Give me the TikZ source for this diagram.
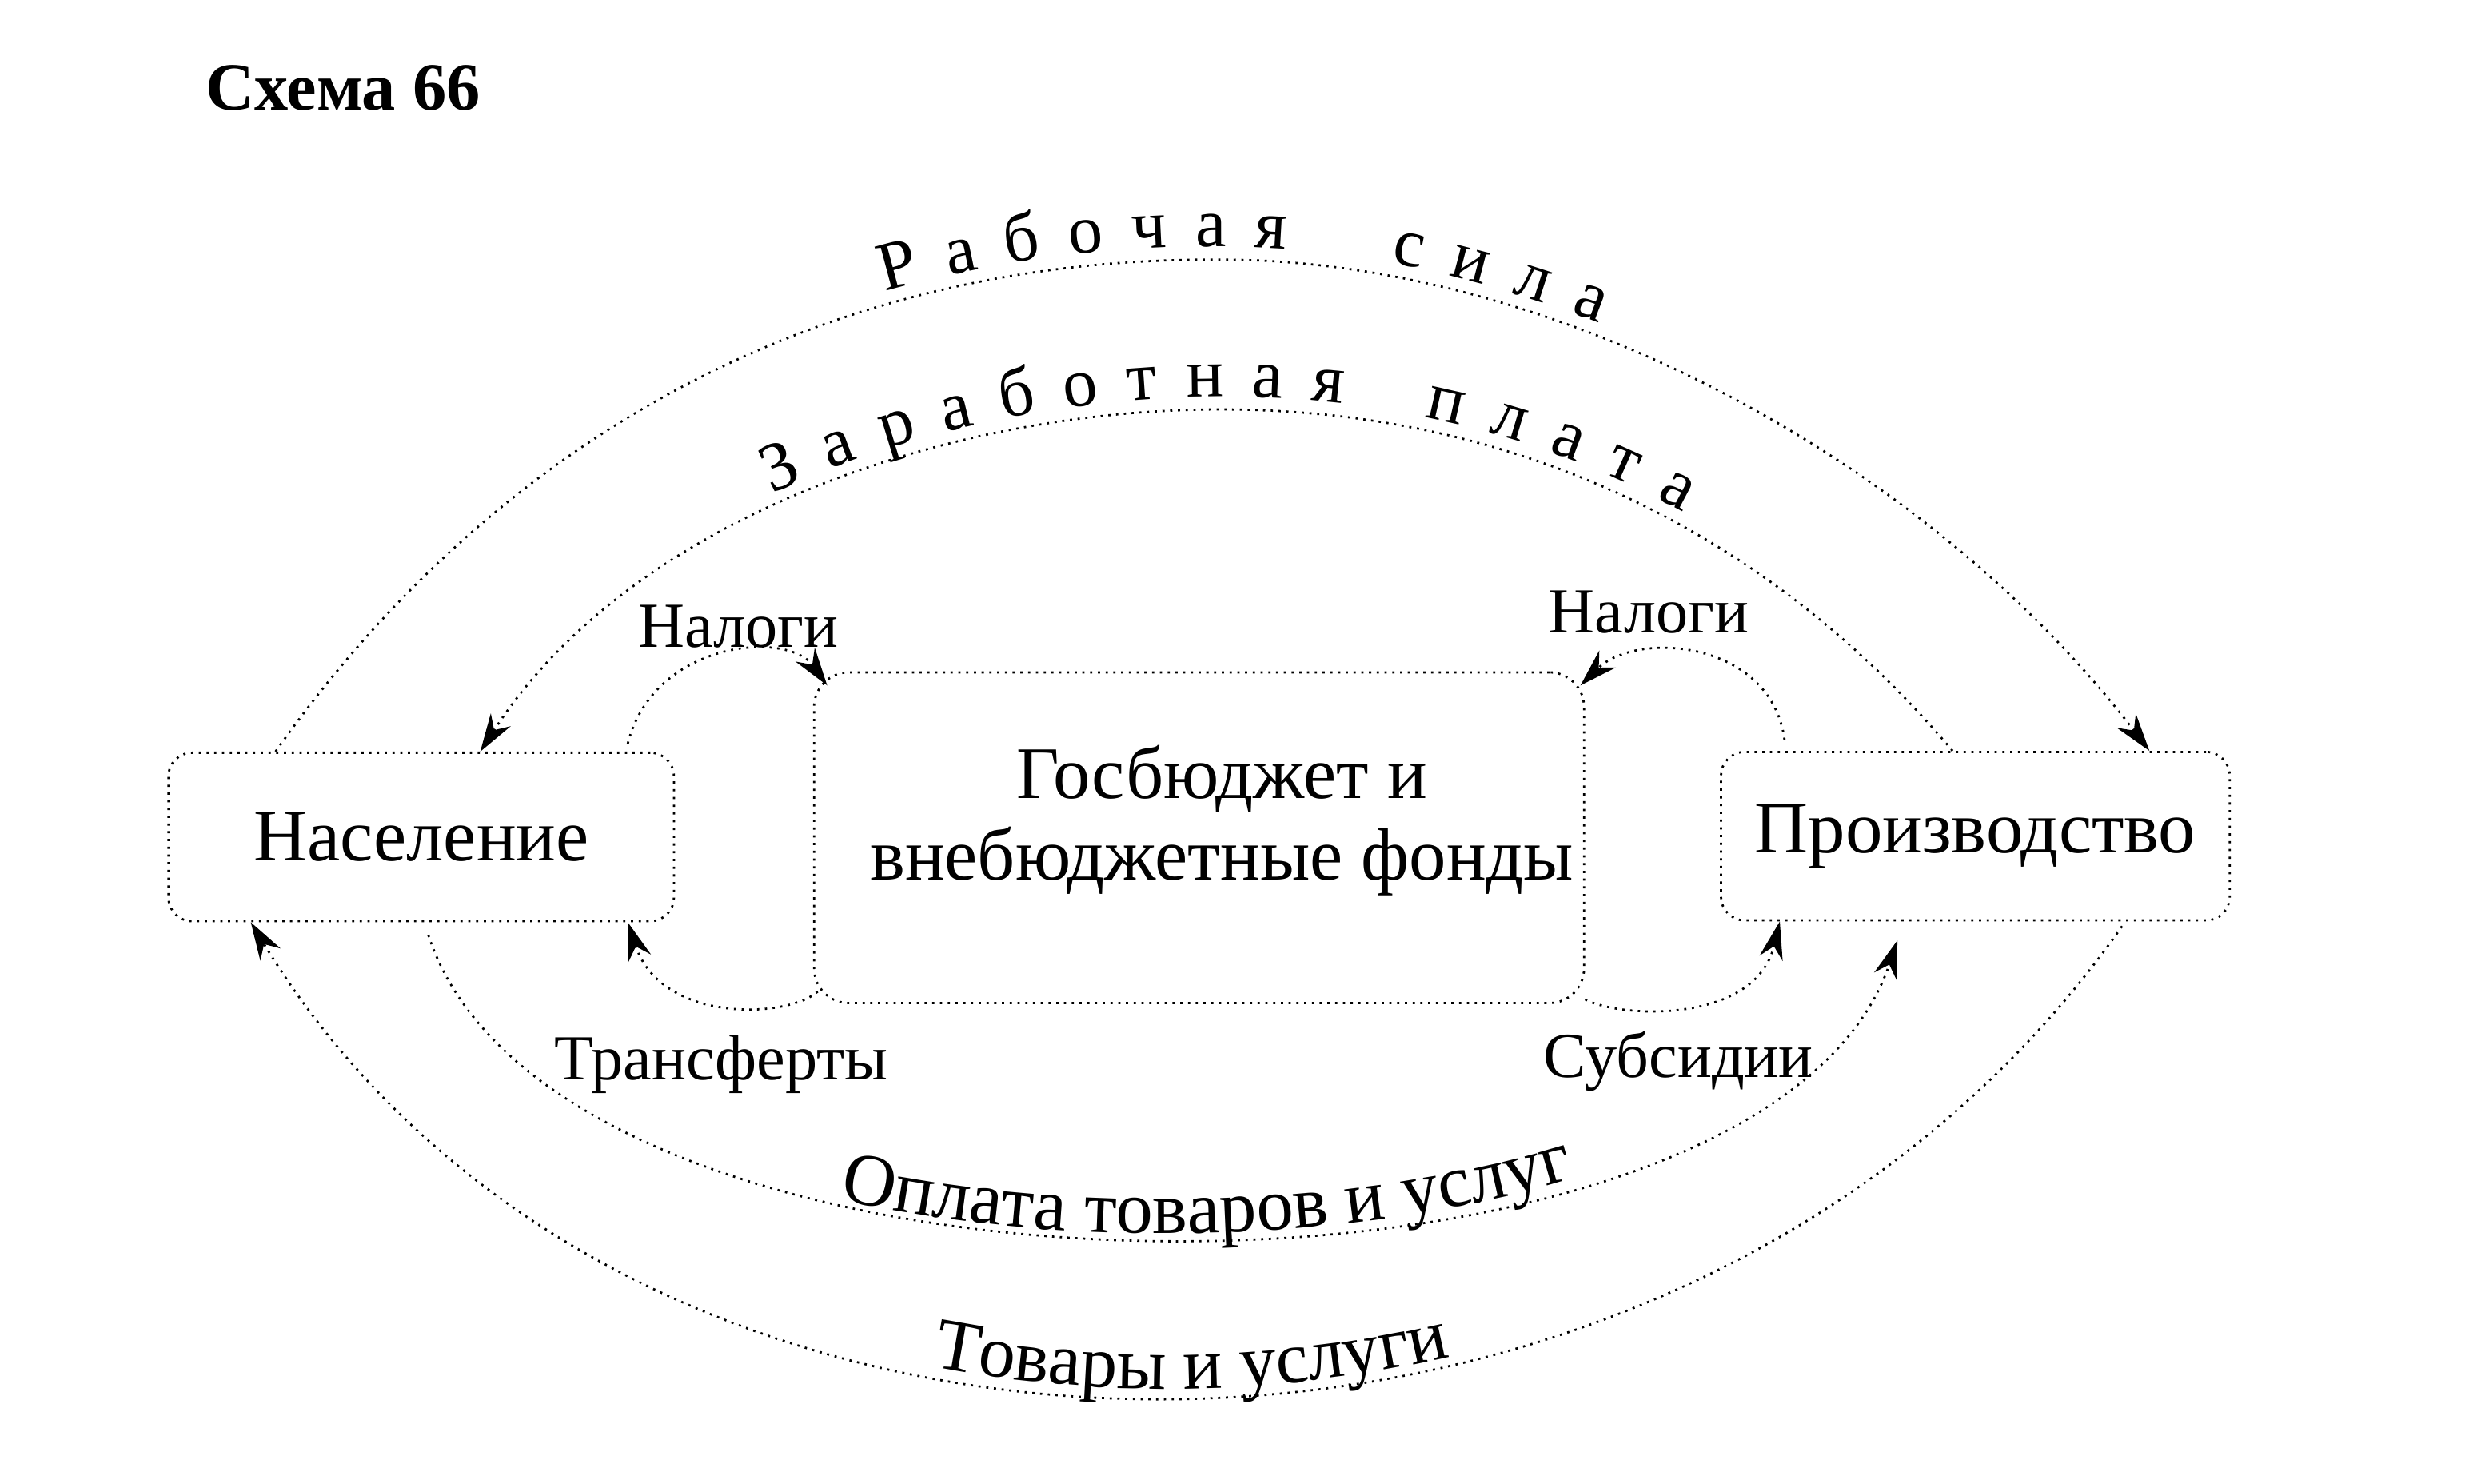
\documentclass[tikz,border=0pt]{standalone}
\usepackage{fontspec}
\setmainfont{Liberation Serif}
\usetikzlibrary{arrows.meta,decorations.text}
\newcommand{\lsp}{\hspace{0.175cm}}

\begin{document}
\begin{tikzpicture}[x=0.1mm, y=0.1mm,
  box/.style={draw, densely dotted, minimum width=3.21cm, minimum height=1.07cm, rounded corners=0.15cm,
    font=\fontsize{13.4}{15}\selectfont},
  flow/.style={densely dotted, -{Stealth[length=0.24cm,width=0.15cm]}},
  lbl/.style={font=\fontsize{11.6}{13}\selectfont}]
  \useasboundingbox (0,0) rectangle (1568,942);
  \node[anchor=base west, inner sep=0pt, font=\bfseries\fontsize{12.2}{14}\selectfont] (title) at (130,872) {Схема 66};
  % boxes
  \node[box] (nas) at (267.5,410.5) {Население};
  \node[box, rounded corners=0.22cm, minimum width=4.89cm, minimum height=2.1cm] (gos) at (761.5,410) {};
  \node[align=center, font=\fontsize{13.4}{14.8}\selectfont] (gostxt) at (776,421) {Госбюджет и\\внебюджетные фонды};
  \node[box, minimum width=3.23cm] (pro) at (1254.5,411) {Производство};
  % upper flows
  \draw[flow, postaction={decorate, decoration={text along path, text align={align=center, left indent=0.46cm}, raise=0.08cm,
      text={|\fontsize{12.5}{14}\selectfont|Р{\lsp}а{\lsp}б{\lsp}о{\lsp}ч{\lsp}а{\lsp}я{\hspace{0.66cm}}с{\lsp}и{\lsp}л{\lsp}а}}}]
    ([xshift=-0.925cm]nas.north) .. controls (300,642) and (500,782) .. (785,777)
    .. controls (1000,773) and (1230,642) .. ([xshift=1.105cm]pro.north);
  \draw[flow, postaction={decorate, decoration={text along path, reverse path, text align={align=center, left indent=0.2cm}, raise=0.08cm,
      text={|\fontsize{12.5}{14}\selectfont|З{\lsp}а{\lsp}р{\lsp}а{\lsp}б{\lsp}о{\lsp}т{\lsp}н{\lsp}а{\lsp}я{\hspace{0.52cm}}п{\lsp}л{\lsp}а{\lsp}т{\lsp}а}}}]
    ([xshift=-0.145cm]pro.north) .. controls (1150,572) and (1000,682) .. (775,682)
    .. controls (600,682) and (400,612) .. ([xshift=0.375cm]nas.north);
  % taxes, transfers, subsidies
  \draw[flow] ([xshift=-0.3cm,yshift=0.05cm]nas.north east) .. controls (415,535) and (500,542) .. ([xshift=0.09cm,yshift=-0.09cm]gos.north west);
  \node[lbl] (nalog1) at (469,544) {Налоги};
  \draw[flow] ([xshift=0.41cm,yshift=0.07cm]pro.north west) .. controls (1125,535) and (1040,542) .. ([xshift=-0.03cm,yshift=-0.09cm]gos.north east);
  \node[lbl] (nalog2) at (1047,553) {Налоги};
  \draw[flow] ([xshift=0.03cm,yshift=0.08cm]gos.south west) .. controls (500,295) and (420,292) .. ([xshift=-0.3cm]nas.south east);
  \node[lbl] (transf) at (458,266) {Трансферты};
  \draw[flow] ([yshift=0.03cm]gos.south east) .. controls (1030,295) and (1115,292) .. ([xshift=0.38cm]pro.south west);
  \node[lbl] (subs) at (1066,268) {Субсидии};
  % lower flows
  \draw[flow, postaction={decorate, decoration={text along path, text align={align=center, left indent=0.6cm}, raise=0.03cm,
      text={|\fontsize{13.4}{16}\selectfont|Оплата товаров и услуг}}}]
    ([xshift=0.045cm,yshift=-0.08cm]nas.south) .. controls (355,92) and (1120,92) .. ([xshift=-0.495cm,yshift=-0.12cm]pro.south);
  \draw[flow, postaction={decorate, decoration={text along path, reverse path, text align={align=center, left indent=0.14cm}, raise=0.05cm,
      text={|\fontsize{13.3}{16}\selectfont|Товары и услуги}}}]
    ([xshift=-0.69cm,yshift=-0.03cm]pro.south east) .. controls (1068,-45) and (403,-45) .. ([xshift=0.53cm]nas.south west);
\end{tikzpicture}
\end{document}
